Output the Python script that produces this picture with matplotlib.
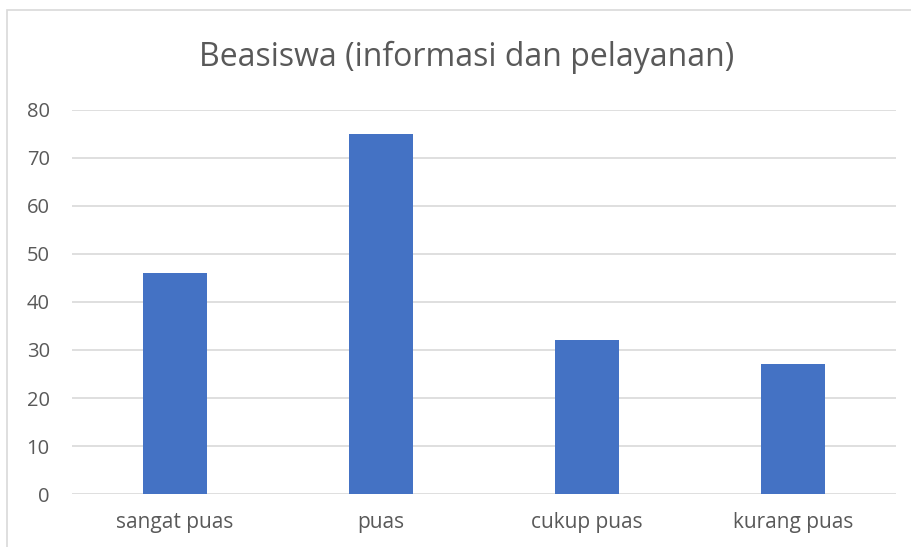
import matplotlib
matplotlib.use("Agg")
import matplotlib.pyplot as plt
from matplotlib.patches import Rectangle

categories = ["sangat puas", "puas", "cukup puas", "kurang puas"]
values = [46, 75, 32, 27]
yticks = [0, 10, 20, 30, 40, 50, 60, 70, 80]
title = "Beasiswa (informasi dan pelayanan)"

plt.rcParams['font.family'] = ['Open Sans', 'DejaVu Sans']
txt = '#595959'
grid = '#D9D9D9'

fig = plt.figure(figsize=(9.11, 5.47), dpi=100)
W, H = 911, 547
ax = fig.add_axes([72 / W, 1 - 494 / H, (896 - 72) / W, (494 - 110) / H])

x = range(len(categories))
ax.bar(x, values, width=0.31, color='#4472C4', zorder=3)
ax.set_xlim(-0.5, len(categories) - 0.5)
ax.set_ylim(0, 80)
ax.set_yticks(yticks)
ax.set_xticks(list(x))
ax.set_xticklabels(categories)
ax.yaxis.grid(True, color=grid, linewidth=1.2, zorder=0)
for s in ax.spines.values():
    s.set_visible(False)
ax.tick_params(axis='both', length=0, colors=txt)
ax.tick_params(axis='y', pad=16, labelsize=14.5)
ax.tick_params(axis='x', pad=13, labelsize=15)

fig.text(467 / W, 1 - 57 / H, title, ha='center', va='center', fontsize=23, color=txt)

# chart border (cropped at right and bottom)
fig.add_artist(Rectangle((7 / W, -0.1), 1.2, 1 - 10 / H + 0.1, transform=fig.transFigure,
                         fill=False, edgecolor=grid, linewidth=1.2))

fig.savefig("out.png", dpi=100)
